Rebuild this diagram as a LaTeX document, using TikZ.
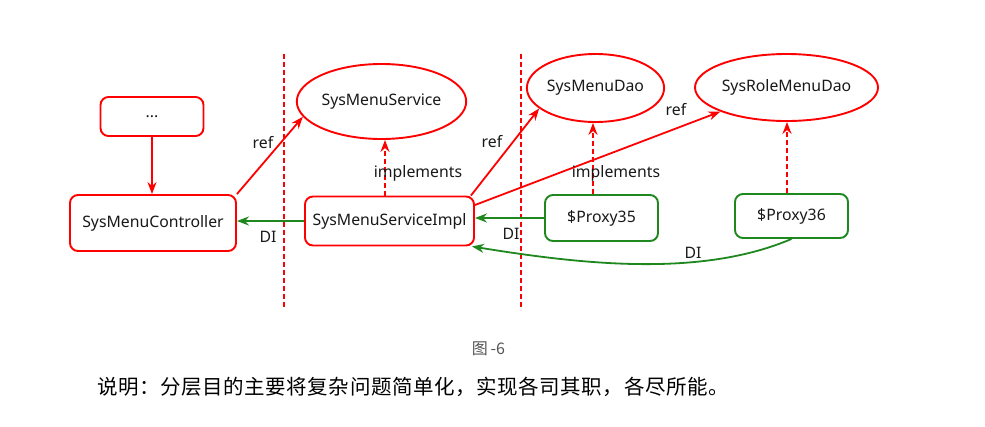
\documentclass[tikz,border=0pt]{standalone}
\usepackage{fontspec}
\setmainfont{Noto Sans}
\newfontfamily\cjk{Noto Sans CJK SC}
\newfontfamily\cjkwide[LetterSpace=2.8]{Noto Sans CJK SC}
\usetikzlibrary{shapes.geometric,arrows.meta}
\definecolor{myred}{RGB}{255,0,0}
\definecolor{mygreen}{RGB}{30,135,30}
\definecolor{capgray}{RGB}{85,85,85}
\begin{document}
\begin{tikzpicture}[x=1pt,y=-1pt,
  txt/.style={font=\fontsize{15.8}{18}\selectfont, text=black!90},
  lbl/.style={txt, inner sep=0pt},
  rbox/.style={txt, draw=myred, line width=1.9pt, rounded corners=8pt, inner sep=0pt},
  gbox/.style={txt, draw=mygreen, line width=1.9pt, rounded corners=8pt, inner sep=0pt},
  oval/.style={txt, ellipse, draw=myred, line width=1.9pt, inner sep=0pt},
  tip/.style={-{Stealth[length=12pt,width=9pt]}},
  refarr/.style={draw=myred, line width=1.8pt, tip},
  implarr/.style={refarr, dash pattern=on 5pt off 3pt},
  diarr/.style={draw=mygreen, line width=1.8pt, tip},
  layer/.style={draw=myred, line width=1.3pt, dash pattern=on 5pt off 3pt}
]
\useasboundingbox[fill=white] (0,0) rectangle (985,426);

% layer separators
\coordinate (l1t) at (284,54);
\coordinate (l1b) at (284,307);
\coordinate (l2t) at (521,54);
\coordinate (l2b) at (521,310);
\draw[layer] (l1t) -- (l1b);
\draw[layer] (l2t) -- (l2b);

% nodes
\node[rbox, minimum width=103pt, minimum height=39pt] (dots) at (152,116.5) {...};
\node[rbox, minimum width=166pt, minimum height=56pt] (ctrl) at (153,223) {SysMenuController};
\node[rbox, minimum width=169pt, minimum height=49pt] (impl) at (389.5,221) {SysMenuServiceImpl};
\node[gbox, minimum width=113pt, minimum height=46pt] (p35) at (601.5,218) {\$Proxy35};
\node[gbox, minimum width=113pt, minimum height=44pt] (p36) at (791.5,216) {\$Proxy36};
\node[oval, minimum width=127pt, minimum height=75pt] (svc) at (381.5,101.5) {SysMenuService};
\node[oval, minimum width=105pt, minimum height=68pt] (dao) at (595.5,88) {SysMenuDao};
\node[oval, minimum width=149pt, minimum height=67pt] (rdao) at (786.5,87.5) {SysRoleMenuDao};

% connectors
\draw[refarr] (dots.south) -- (dots.south |- ctrl.north);
\draw[refarr] (ctrl.north east) -- (svc.191);
\draw[implarr] ([xshift=-4.5pt]impl.north) -- ([xshift=-4.5pt]impl.north |- svc.south);
\draw[refarr] ([xshift=-4pt]impl.north east) -- (dao.200);
\draw[refarr] ([yshift=16pt]impl.east) -- (rdao.200);
\draw[implarr] ([xshift=-8.5pt]p35.north) -- ([xshift=-8.5pt]p35.north |- dao.south);
\draw[implarr] ([xshift=-4.5pt]p36.north) -- ([xshift=-4.5pt]p36.north |- rdao.south);
\draw[diarr] (impl.west) -- (impl.west -| ctrl.east);
\draw[diarr] (p35.west) -- (p35.west -| impl.east);
\draw[diarr] (p36.south) .. controls (700,278) and (580,264) .. ([xshift=-3pt]impl.south east);

% labels
\node[lbl] (r1) at (263,143) {ref};
\node[lbl] (d1) at (268,237) {DI};
\node[lbl] (i1) at (418,173) {implements};
\node[lbl] (r2) at (492,142) {ref};
\node[lbl] (d2) at (511,234) {DI};
\node[lbl] (i2) at (616,173) {implements};
\node[lbl] (r3) at (676,110) {ref};
\node[lbl] (d3) at (693,253) {DI};

% captions
\node[font=\cjk\fontsize{16}{19}\selectfont, text=capgray, inner sep=0pt] (cap) at (488.5,349) {图\,-6};
\node[font=\cjkwide\fontsize{20.5}{24}\selectfont, text=black, inner sep=0pt, anchor=west] (note) at (97,387) {说明：分层目的主要将复杂问题简单化，实现各司其职，各尽所能。};
\end{tikzpicture}
\end{document}
